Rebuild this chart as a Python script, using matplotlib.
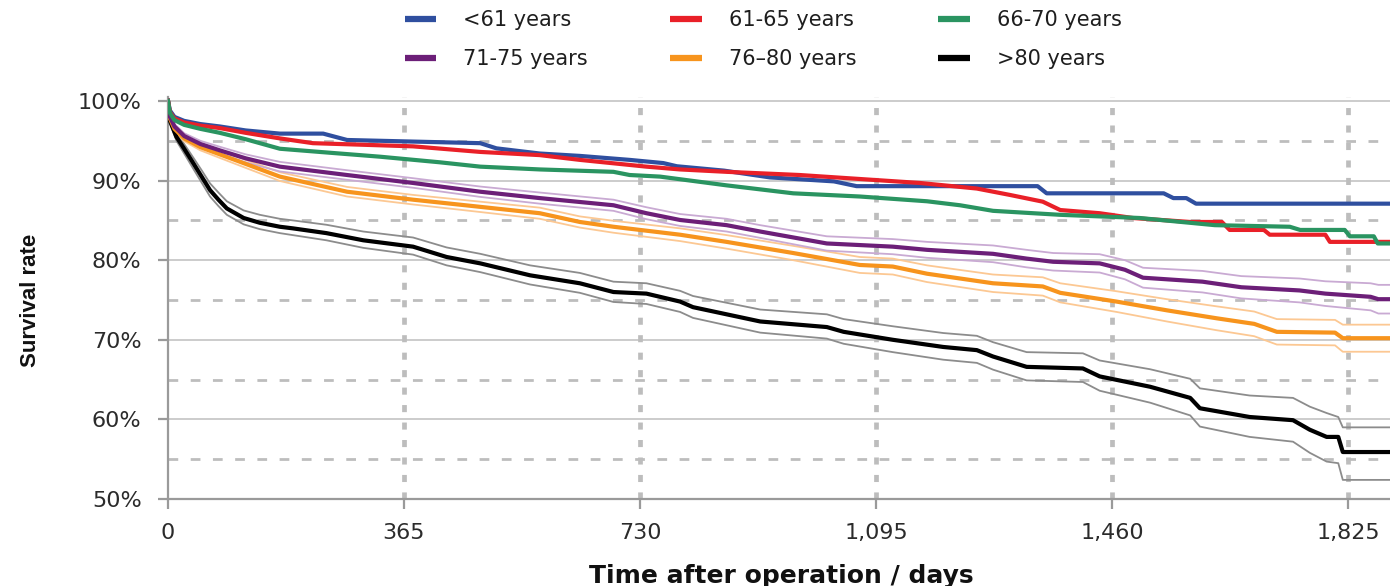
import matplotlib
matplotlib.use("Agg")
import matplotlib.pyplot as plt
from matplotlib.lines import Line2D

# ---------------- data ----------------
days_lt61 = [0, 3, 10, 25, 50, 80, 120, 173, 240, 277, 379, 483, 508, 575, 637, 714, 766, 787,
             860, 931, 1030, 1065, 1345, 1359, 1540, 1555, 1575, 1590, 1890]
surv_lt61 = [100, 98.8, 98.0, 97.5, 97.1, 96.8, 96.3, 95.9, 95.9, 95.1, 94.9, 94.7, 94.05, 93.4,
             93.1, 92.6, 92.2, 91.8, 91.25, 90.4, 89.9, 89.3, 89.3, 88.4, 88.4, 87.8, 87.8, 87.1, 87.1]

days_61_65 = [0, 3, 10, 25, 50, 80, 120, 173, 224, 379, 483, 575, 637, 740, 792, 864, 977, 1070,
              1163, 1251, 1302, 1353, 1380, 1441, 1492, 1581, 1630, 1642, 1695, 1704, 1790, 1797, 1890]
surv_61_65 = [100, 98.6, 97.8, 97.3, 96.9, 96.6, 96.0, 95.3, 94.7, 94.3, 93.6, 93.2, 92.6, 91.75,
              91.4, 91.1, 90.7, 90.2, 89.7, 89.0, 88.2, 87.35, 86.3, 85.9, 85.3, 84.8, 84.8, 83.8,
              83.8, 83.2, 83.2, 82.3, 82.3]

days_66_70 = [0, 3, 10, 25, 50, 80, 120, 173, 250, 328, 420, 483, 575, 689, 714, 761, 864, 967,
              1070, 1174, 1225, 1276, 1380, 1503, 1619, 1735, 1751, 1820, 1828, 1865, 1871, 1890]
surv_66_70 = [100, 98.5, 97.6, 97.0, 96.5, 96.0, 95.2, 94.0, 93.5, 93.0, 92.3, 91.75, 91.4, 91.1,
              90.7, 90.5, 89.4, 88.4, 88.0, 87.4, 86.9, 86.2, 85.7, 85.3, 84.4, 84.2, 83.8, 83.8,
              83.0, 83.0, 82.1, 82.1]

days_71_75 = [0, 3, 10, 25, 50, 80, 120, 173, 277, 379, 483, 575, 689, 740, 792, 864, 916, 1019,
              1121, 1174, 1276, 1328, 1369, 1441, 1480, 1508, 1600, 1660, 1750, 1790, 1860, 1872, 1890]
surv_71_75 = [100, 98.0, 96.8, 95.6, 94.6, 93.8, 92.8, 91.75, 90.7, 89.7, 88.6, 87.8, 86.9, 85.9,
              85.05, 84.4, 83.6, 82.1, 81.7, 81.3, 80.8, 80.2, 79.8, 79.6, 78.8, 77.8, 77.3, 76.6,
              76.2, 75.8, 75.4, 75.1, 75.1]
upper_71_75 = [100, 98.2, 97.1, 95.95, 95.0, 94.25, 93.3, 92.35, 91.3, 90.3, 89.25, 88.5, 87.6,
               86.65, 85.8, 85.2, 84.4, 83.0, 82.65, 82.3, 81.85, 81.3, 80.9, 80.75, 80.0, 79.05,
               78.65, 78.0, 77.7, 77.35, 77.1, 76.9, 76.9]
lower_71_75 = [100, 97.8, 96.5, 95.25, 94.2, 93.35, 92.3, 91.15, 90.1, 89.1, 87.95, 87.1, 86.2,
               85.15, 84.3, 83.6, 82.8, 81.2, 80.75, 80.3, 79.75, 79.1, 78.7, 78.45, 77.6, 76.55,
               75.95, 75.2, 74.7, 74.25, 73.7, 73.3, 73.3]

days_76_80 = [0, 3, 10, 25, 50, 80, 120, 173, 277, 379, 483, 575, 637, 689, 792, 864, 967, 1070,
              1121, 1174, 1276, 1353, 1380, 1467, 1545, 1622, 1680, 1715, 1805, 1817, 1890]
surv_76_80 = [100, 97.8, 96.5, 95.3, 94.2, 93.3, 92.1, 90.5, 88.6, 87.6, 86.7, 85.9, 84.8, 84.2,
              83.2, 82.3, 80.9, 79.4, 79.2, 78.3, 77.1, 76.7, 75.9, 74.8, 73.7, 72.7, 72.0, 71.0,
              70.9, 70.2, 70.2]
upper_76_80 = [100, 98.0, 96.8, 95.65, 94.6, 93.75, 92.6, 91.05, 89.2, 88.2, 87.35, 86.6, 85.5,
               84.95, 84.0, 83.15, 81.8, 80.4, 80.2, 79.35, 78.2, 77.85, 77.1, 76.1, 75.1, 74.2,
               73.55, 72.6, 72.5, 71.9, 71.9]
lower_76_80 = [100, 97.6, 96.2, 94.95, 93.8, 92.85, 91.6, 89.95, 88.0, 87.0, 86.05, 85.2, 84.1,
               83.45, 82.4, 81.45, 80.0, 78.4, 78.2, 77.25, 76.0, 75.55, 74.7, 73.5, 72.3, 71.2,
               70.45, 69.4, 69.3, 68.5, 68.5]

days_gt80 = [0, 3, 13, 25, 39, 52, 65, 78, 91, 117, 142, 173, 193, 245, 302, 379, 431, 483, 560,
             637, 689, 740, 792, 812, 916, 1019, 1045, 1121, 1199, 1251, 1276, 1328, 1415, 1441,
             1519, 1581, 1596, 1673, 1740, 1766, 1792, 1810, 1817, 1890]
surv_gt80 = [100, 97.5, 95.5, 94.0, 92.2, 90.5, 88.8, 87.6, 86.5, 85.3, 84.7, 84.2, 84.0, 83.4,
             82.5, 81.7, 80.4, 79.6, 78.1, 77.1, 76.0, 75.8, 74.8, 74.1, 72.3, 71.6, 71.0, 70.0,
             69.1, 68.7, 67.9, 66.6, 66.4, 65.4, 64.1, 62.7, 61.4, 60.3, 59.9, 58.7, 57.8, 57.8,
             55.9, 55.9]
upper_gt80 = [100, 97.8, 96.0, 94.6, 92.9, 91.3, 89.65, 88.5, 87.4, 86.25, 85.7, 85.2, 85.0, 84.45,
              83.6, 82.85, 81.6, 80.8, 79.35, 78.4, 77.3, 77.1, 76.15, 75.5, 73.8, 73.2, 72.6, 71.7,
              70.85, 70.5, 69.7, 68.45, 68.3, 67.4, 66.3, 65.1, 63.9, 63.0, 62.7, 61.6, 60.8, 60.3,
              59.0, 59.0]
lower_gt80 = [100, 97.2, 95.0, 93.4, 91.5, 89.75, 88.0, 86.8, 85.7, 84.5, 83.9, 83.4, 83.15, 82.5,
              81.55, 80.7, 79.35, 78.5, 76.95, 75.9, 74.75, 74.5, 73.5, 72.75, 70.9, 70.15, 69.5,
              68.45, 67.5, 67.1, 66.25, 64.9, 64.7, 63.6, 62.1, 60.5, 59.1, 57.8, 57.2, 55.8, 54.7,
              54.5, 52.4, 52.4]

group_labels = ["<61 years", "61-65 years", "66-70 years", "71-75 years", "76\u201380 years", ">80 years"]
x_ticks = [0, 365, 730, 1095, 1460, 1825]
x_ticklabels = ["0", "365", "730", "1,095", "1,460", "1,825"]
y_ticks = [50, 60, 70, 80, 90, 100]
y_ticklabels = ["50%", "60%", "70%", "80%", "90%", "100%"]
y_minor = [55, 65, 75, 85, 95]

# ---------------- styling ----------------
c_blue, c_red, c_green = "#2f4f9f", "#e92028", "#2a9461"
c_purple, c_orange, c_black = "#6c1f78", "#f7941d", "#000000"
ci_purple, ci_orange, ci_black = "#c9aad3", "#fcc893", "#8c8c8c"

W, H = 1390, 586
fig = plt.figure(figsize=(W / 100, H / 100), dpi=100)
ax_left, ax_right = 168 / W, 1.0
y_bot_px, y_top_px = 499, 97
ax = fig.add_axes([ax_left, 1 - y_bot_px / H, ax_right - ax_left, (y_bot_px - y_top_px) / H])
ax.set_xlim(0, 1890)
ax.set_ylim(50, 100.5)

# grid
for yv in y_ticks[1:]:
    ax.axhline(yv, color="#c4c4c4", lw=1.2, zorder=1)
for yv in y_minor:
    ax.axhline(yv, color="#bdbdbd", lw=2.0, dashes=(3.5, 4.5), zorder=1)
for xv in x_ticks[1:]:
    ax.axvline(xv, color="#bdbdbd", lw=3.4, dashes=(1.5, 2.2), zorder=1)

ax.set_facecolor("white")
for s in ["top", "right"]:
    ax.spines[s].set_visible(False)
for s in ["left", "bottom"]:
    ax.spines[s].set_color("#9a9a9a")
    ax.spines[s].set_linewidth(1.6)

# confidence bands (thin lines)
for d, lo, up, c in [(days_gt80, lower_gt80, upper_gt80, ci_black),
                     (days_76_80, lower_76_80, upper_76_80, ci_orange),
                     (days_71_75, lower_71_75, upper_71_75, ci_purple)]:
    ax.plot(d, lo, color=c, lw=1.3, zorder=2)
    ax.plot(d, up, color=c, lw=1.3, zorder=2)

series = [(days_gt80, surv_gt80, c_black),
          (days_76_80, surv_76_80, c_orange),
          (days_71_75, surv_71_75, c_purple),
          (days_lt61, surv_lt61, c_blue),
          (days_61_65, surv_61_65, c_red),
          (days_66_70, surv_66_70, c_green)]
for d, s, c in series:
    ax.plot(d, s, color=c, lw=3.0, zorder=3)

ax.set_xticks(x_ticks)
ax.set_xticklabels(x_ticklabels)
ax.set_yticks(y_ticks)
ax.set_yticklabels(y_ticklabels)
ax.tick_params(axis="both", direction="out", color="#9a9a9a", width=1.6, length=7,
               labelcolor="#2b2b2b")
ax.tick_params(axis="y", pad=12, labelsize=16)
ax.tick_params(axis="x", pad=10, labelsize=16)

fig.text(30 / W, 1 - 300 / H, "Survival rate", rotation=90, ha="center", va="center",
         fontsize=16, fontweight="bold", color="#111111",
         family=["Liberation Sans Narrow", "DejaVu Sans Condensed", "Liberation Sans"])
fig.text(781 / W, 1 - 576 / H, "Time after operation / days", ha="center", va="center",
         fontsize=18, fontweight="bold", color="#111111", family=["DejaVu Sans"])

# legend
handles = [Line2D([], [], color=c, lw=4.5, solid_capstyle="butt")
           for c in [c_blue, c_purple, c_red, c_orange, c_green, c_black]]
labels = [group_labels[0], group_labels[3], group_labels[1], group_labels[4],
          group_labels[2], group_labels[5]]
fig.legend(handles, labels, ncol=3, loc="upper left", bbox_to_anchor=(405 / W, 1 - 10 / H),
           frameon=False, fontsize=15, handlelength=1.5, handletextpad=1.3,
           columnspacing=3.95, labelspacing=0.91, borderpad=0, borderaxespad=0,
           labelcolor="#1e1e1e")

fig.savefig("out.png", dpi=100)
